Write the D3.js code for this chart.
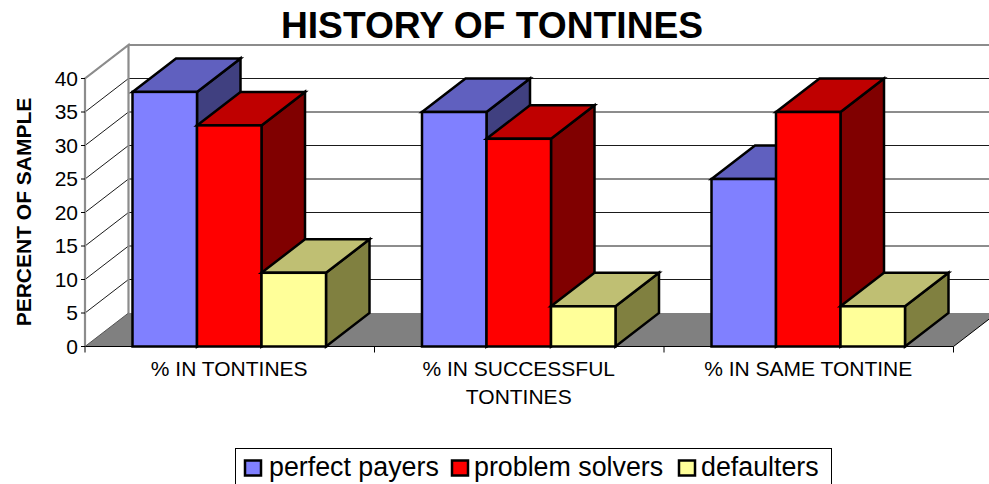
<!DOCTYPE html>
<html><head><meta charset="utf-8">
<script src="https://cdnjs.cloudflare.com/ajax/libs/d3/7.8.5/d3.min.js"></script>
<style>html,body{margin:0;padding:0;background:#fff}svg{display:block}text{font-family:"Liberation Sans",Arial,sans-serif;fill:#000}</style>
</head><body><svg id="c" width="989" height="484"></svg>
<script>
const titleText = "HISTORY OF TONTINES";
const yAxisTitle = "PERCENT OF SAMPLE";
const categories = ["% IN TONTINES", "% IN SUCCESSFUL|TONTINES", "% IN SAME TONTINE"];
const seriesNames = ["perfect payers", "problem solvers", "defaulters"];
const perfectPayers = [38, 35, 25];
const problemSolvers = [33, 31, 35];
const defaulters = [11, 6, 6];
const yTicks = [0, 5, 10, 15, 20, 25, 30, 35, 40];
const seriesValues = [perfectPayers, problemSolvers, defaulters];
const faceColors = ["#8080ff", "#ff0000", "#ffff99"];
const topColors = ["#6060bf", "#bf0000", "#bfbf73"];
const sideColors = ["#404080", "#800000", "#808040"];

const svg = d3.select("#c");
const dx = 43.5, dy = 33.5;
const y = d3.scaleLinear().domain([0, 40]).range([346.5, 78.5]);
const x0 = d3.scaleBand().domain(categories).range([85, 953.5]);
const x1 = d3.scaleBand().domain(seriesNames).range([47.5, 241]);
const grey = "#8c8c8c";
const path = d3.line();
const base = y(0);

// back wall gridlines
const grid = svg.append("g").attr("fill", "none").attr("stroke", "#000").attr("stroke-width", 1);
yTicks.forEach(t => {
  if (t > 0) {
    grid.append("path").attr("d", path([[85, y(t)], [85 + dx, y(t) - dy], [996, y(t) - dy]])).attr("stroke-width", 0.9);
  }
});
// floor
svg.append("path").attr("fill", "#808080")
  .attr("d", path([[85, base], [85 + dx, base - dy], [997, base - dy], [953.5, base]]) + "Z");
// walls
svg.append("path").attr("fill", "none").attr("stroke", grey).attr("stroke-width", 2.2)
  .attr("d", path([[85, y(0)], [85, y(40)], [85 + dx, y(40) - dy], [85 + dx, base - dy]]));
svg.append("path").attr("fill", "none").attr("stroke", grey).attr("stroke-width", 2.2)
  .attr("d", path([[85 + dx, y(40) - dy], [989, y(40) - dy]]));
// axis lines and ticks
const ax = svg.append("g").attr("stroke", "#000").attr("stroke-width", 1).attr("fill", "none");
ax.append("path").attr("d", path([[85, base], [953.5, base]]));
ax.append("path").attr("d", path([[953.5, base], [997, base - dy]]));
ax.append("path").attr("d", path([[85, base], [85 + dx, base - dy]])).attr("stroke", "#555");
yTicks.forEach(t => ax.append("path").attr("d", path([[81, y(t)], [85, y(t)]])));
[0, 1, 2, 3].forEach(i => {
  const px = 85 + i * x0.step();
  ax.append("path").attr("d", path([[px, base], [px, base + 6]]));
});
// y labels
svg.append("g").selectAll("text").data(yTicks).join("text")
  .attr("x", 78).attr("y", d => y(d) + 7).attr("text-anchor", "end").attr("font-size", 21).text(d => d);
// bars
const bars = svg.append("g").attr("stroke", "#000").attr("stroke-width", 2.5).attr("stroke-linejoin", "miter");
categories.forEach((c, ci) => {
  seriesNames.forEach((s, si) => {
    const v = seriesValues[si][ci];
    const l = x0(c) + x1(s), r = l + x1.bandwidth(), t = y(v), b = y(0);
    bars.append("path").attr("fill", sideColors[si])
      .attr("d", path([[r, t], [r + dx, t - dy], [r + dx, b - dy], [r, b]]) + "Z");
    bars.append("path").attr("fill", topColors[si])
      .attr("d", path([[l, t], [l + dx, t - dy], [r + dx, t - dy], [r, t]]) + "Z");
    bars.append("rect").attr("fill", faceColors[si])
      .attr("x", l).attr("y", t).attr("width", r - l).attr("height", b - t);
  });
});
// category labels
categories.forEach(c => {
  const cx = x0(c) + x0.bandwidth() / 2;
  c.split("|").forEach((line, i) => {
    svg.append("text").attr("x", cx - 0.5).attr("y", 376 + i * 28).attr("text-anchor", "middle")
      .attr("font-size", 21).text(line);
  });
});
// titles
svg.append("text").attr("x", 492).attr("y", 38).attr("text-anchor", "middle")
  .attr("font-size", 37.2).attr("font-weight", 700).text(titleText);
svg.append("text").attr("transform", "translate(30.5,212) rotate(-90)").attr("text-anchor", "middle")
  .attr("font-size", 21).attr("font-weight", 700).text(yAxisTitle);
// legend
svg.append("rect").attr("x", 235.5).attr("y", 448.5).attr("width", 596).attr("height", 40)
  .attr("fill", "#fff").attr("stroke", "#000").attr("stroke-width", 1);
const legendSwatchX = [245, 452, 679];
const legendTextX = [269, 474, 701];
seriesNames.forEach((s, i) => {
  svg.append("rect").attr("x", legendSwatchX[i]).attr("y", 460.5).attr("width", 16).attr("height", 15)
    .attr("fill", faceColors[i]).attr("stroke", "#000").attr("stroke-width", 2.5);
  svg.append("text").attr("x", legendTextX[i]).attr("y", 476).attr("font-size", 26.8).text(s);
});
</script></body></html>
